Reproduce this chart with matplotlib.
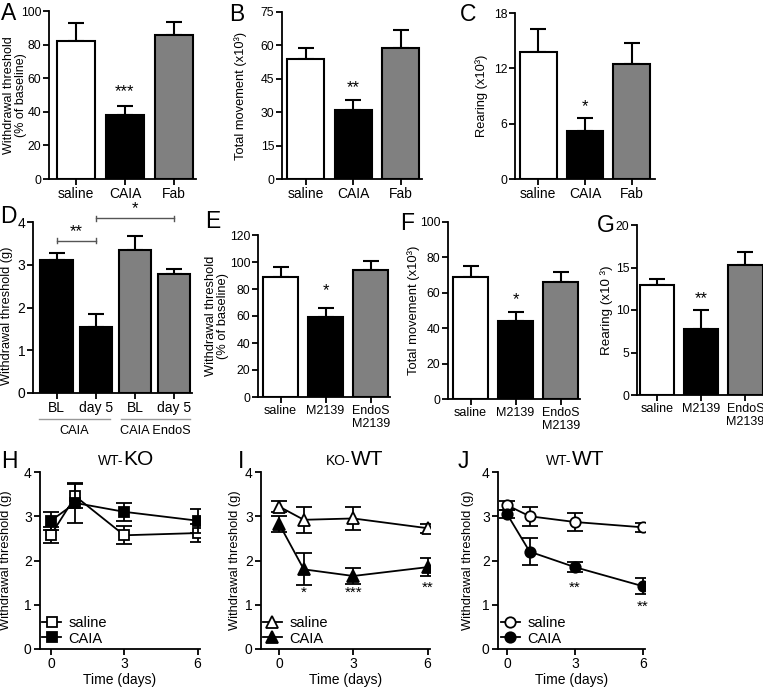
import matplotlib
matplotlib.use('Agg')
import matplotlib.pyplot as plt
import matplotlib.transforms as mtransforms
import numpy as np

plt.rcParams['font.family'] = ['Liberation Sans', 'DejaVu Sans']
plt.rcParams['font.size'] = 9.5

# ---- data ----
abc_labels = ['saline', 'CAIA', 'Fab']
a_mean = [82, 38, 86]
a_err = [11, 5.5, 7.5]
b_mean = [54, 31, 59]
b_err = [5, 4.5, 8]
c_mean = [13.8, 5.2, 12.5]
c_err = [2.5, 1.4, 2.2]

d_labels = ['BL', 'day 5', 'BL', 'day 5']
d_mean = [3.12, 1.55, 3.35, 2.78]
d_err = [0.15, 0.30, 0.33, 0.13]

efg_labels = ['saline', 'M2139', 'EndoS\nM2139']
e_mean = [89, 59, 94]
e_err = [7, 7, 6.5]
f_mean = [69, 44, 66]
f_err = [6, 5, 5.5]
g_mean = [13.0, 7.8, 15.3]
g_err = [0.7, 2.2, 1.5]

days = [0, 1, 3, 6]
h_saline = [2.58, 3.45, 2.57, 2.62]
h_saline_err = [0.18, 0.27, 0.20, 0.20]
h_caia = [2.90, 3.30, 3.10, 2.90]
h_caia_err = [0.20, 0.45, 0.20, 0.27]
i_saline = [3.22, 2.92, 2.95, 2.73]
i_saline_err = [0.13, 0.30, 0.25, 0.10]
i_caia = [2.83, 1.80, 1.65, 1.85]
i_caia_err = [0.18, 0.36, 0.18, 0.20]
j_saline = [3.25, 3.00, 2.87, 2.75]
j_saline_err = [0.10, 0.22, 0.20, 0.10]
j_caia = [3.05, 2.20, 1.85, 1.42]
j_caia_err = [0.08, 0.30, 0.12, 0.18]

W, H = 763, 688
fig = plt.figure(figsize=(W / 100, H / 100), dpi=100)
GRAY = '#808080'


def ax_px(left, top, right, bottom):
    ax = fig.add_axes([left / W, 1 - bottom / H, (right - left) / W, (bottom - top) / H])
    ax._px = (left, top, right, bottom)
    return ax


def ylabel_px(ax, text, xc, size, yfrac=0.5):
    left, top, right, bottom = ax._px
    ax.set_ylabel(text, fontsize=size, va='center', linespacing=1.0)
    ax.yaxis.set_label_coords((xc - left) / (right - left), yfrac)


def style(ax, tsize=9.5):
    for s in ['top', 'right']:
        ax.spines[s].set_visible(False)
    for s in ['left', 'bottom']:
        ax.spines[s].set_linewidth(1.3)
    ax.tick_params(direction='out', length=4, width=1.3, labelsize=tsize, pad=2)


def bars(ax, labels, means, errs, colors, ylim, step, xlim, width=0.78, xsize=9.5):
    x = np.arange(len(means))
    ax.errorbar(x, means, yerr=[np.zeros(len(errs)), errs], fmt='none', ecolor='black',
                elinewidth=1.5, capsize=6, capthick=1.5, zorder=1)
    ax.bar(x, means, width=width, color=colors, edgecolor='black', linewidth=1.5, zorder=2)
    ax.set_xticks(x)
    ax.set_xticklabels(labels, linespacing=1.05)
    ax.set_ylim(*ylim)
    ax.set_yticks(np.arange(ylim[0], ylim[1] + step / 2, step))
    ax.set_xlim(*xlim)
    style(ax)
    ax.tick_params(axis='x', labelsize=xsize)
    ax.tick_params(axis='y', labelsize=8.8, pad=1.5)


def stars(ax, x, y, s, size=12):
    ax.text(x, y, s, ha='center', va='center', fontsize=size)


cols3 = ['white', 'black', GRAY]

# A
axA = ax_px(49, 11, 196, 179)
bars(axA, abc_labels, a_mean, a_err, cols3, (0, 100), 20, (-0.55, 2.45), xsize=10)
ylabel_px(axA, 'Withdrawal threshold\n(% of baseline)', 15, 9)
stars(axA, 1, 52, '***')

# B
axB = ax_px(282, 12, 422, 179)
bars(axB, abc_labels, b_mean, b_err, cols3, (0, 75), 15, (-0.5, 2.45), xsize=10)
ylabel_px(axB, 'Total movement (x10³)', 241, 9.3)
stars(axB, 1, 41, '**')

# C
axC = ax_px(515, 13, 655, 179)
bars(axC, abc_labels, c_mean, c_err, cols3, (0, 18), 6, (-0.5, 2.5), xsize=10)
ylabel_px(axC, 'Rearing (x10³)', 482, 9.3)
stars(axC, 1, 7.8, '*')

# D
axD = ax_px(33, 222, 192, 393)
bars(axD, d_labels, d_mean, d_err, ['black', 'black', GRAY, GRAY], (0, 4), 1,
     (-0.6, 3.45), width=0.82, xsize=10)
axD.tick_params(axis='y', labelsize=10)
ylabel_px(axD, 'Withdrawal threshold (g)', 7, 9.2, yfrac=0.45)
for x0, x1, yb, s in [(0, 1, 3.56, '**'), (1, 3, 4.09, '*')]:
    axD.plot([x0, x1], [yb, yb], color='#555555', lw=1, clip_on=False)
    axD.plot([x0, x0], [yb - 0.06, yb + 0.06], color='#555555', lw=1, clip_on=False)
    axD.plot([x1, x1], [yb - 0.06, yb + 0.06], color='#555555', lw=1, clip_on=False)
    axD.text((x0 + x1) / 2, yb + 0.04, s, ha='center', va='bottom', fontsize=12, clip_on=False)
trD = mtransforms.blended_transform_factory(axD.transData, axD.transAxes)
for x0, x1, s in [(-0.45, 1.35, 'CAIA'), (1.65, 3.4, 'CAIA EndoS')]:
    axD.plot([x0, x1], [-0.152, -0.152], color='#999999', lw=1, transform=trD, clip_on=False)
    axD.text((x0 + x1) / 2, -0.19, s, ha='center', va='top', fontsize=9.2, transform=trD)

# E
axE = ax_px(258, 235, 390, 397)
bars(axE, efg_labels, e_mean, e_err, cols3, (0, 120), 20, (-0.5, 2.43), xsize=9)
ylabel_px(axE, 'Withdrawal threshold\n(% of baseline)', 217, 9.3)
stars(axE, 1, 79, '*')

# F
axF = ax_px(448, 222, 580, 399)
bars(axF, efg_labels, f_mean, f_err, cols3, (0, 100), 20, (-0.5, 2.43), xsize=9)
ylabel_px(axF, 'Total movement (x10³)', 414, 9.4)
stars(axF, 1, 56, '*')

# G
axG = ax_px(637, 225, 763, 395)
bars(axG, efg_labels, g_mean, g_err, cols3, (0, 20), 5, (-0.45, 2.4), xsize=9)
ylabel_px(axG, 'Rearing (x10 ³)', 607, 9.6)
stars(axG, 1, 11.3, '**')


# H, I, J time courses
def timecourse(ax, s_m, s_e, c_m, c_e, marker, msize, xlim, small, big, split, ylx):
    ax.errorbar(days, s_m, yerr=s_e, fmt='none', ecolor='black', elinewidth=1.3,
                capsize=6, capthick=1.3, zorder=2)
    ax.errorbar(days, c_m, yerr=c_e, fmt='none', ecolor='black', elinewidth=1.3,
                capsize=6, capthick=1.3, zorder=4)
    ax.plot(days, s_m, '-', marker=marker, color='black', mfc='white', mec='black',
            ms=msize, mew=1.3, lw=1.3, label='saline', zorder=3)
    ax.plot(days, c_m, '-', marker=marker, color='black', mfc='black', mec='black',
            ms=msize, mew=1.3, lw=1.3, label='CAIA', zorder=5)
    ax.set_xlim(*xlim)
    ax.set_ylim(0, 4)
    ax.set_xticks([0, 3, 6])
    ax.set_yticks([0, 1, 2, 3, 4])
    ax.set_xlabel('Time (days)', fontsize=10, labelpad=1)
    ylabel_px(ax, 'Withdrawal threshold (g)', ylx, 9.3)
    style(ax, tsize=10)
    ax.legend(loc='lower left', bbox_to_anchor=(-0.04, -0.03), frameon=False,
              fontsize=10.5, handlelength=1.3, handletextpad=0.5, labelspacing=0.12,
              borderaxespad=0.2)
    ax.text(split, 1.04, small, transform=ax.transAxes, ha='right', va='baseline', fontsize=10)
    ax.text(split, 1.04, big, transform=ax.transAxes, ha='left', va='baseline', fontsize=15)


axH = ax_px(40, 472, 200, 649)
timecourse(axH, h_saline, h_saline_err, h_caia, h_caia_err, 's', 7.5,
           (-0.45, 6.1), 'WT-', 'KO', 0.52, 6)

axI = ax_px(261, 472, 430, 649)
timecourse(axI, i_saline, i_saline_err, i_caia, i_caia_err, '^', 8,
           (-0.73, 6.1), 'KO-', 'WT', 0.53, 235)
for d, y, s in [(1, 1.27, '*'), (3, 1.27, '***'), (6, 1.38, '**')]:
    stars(axI, d, y, s, size=11)

axJ = ax_px(498, 472, 645, 649)
timecourse(axJ, j_saline, j_saline_err, j_caia, j_caia_err, 'o', 7.5,
           (-0.4, 6.1), 'WT-', 'WT', 0.50, 468)
for d, y, s in [(3, 1.38, '**'), (6, 0.95, '**')]:
    stars(axJ, d, y, s, size=11)

# panel letters
for s, x, y in [('A', 1, 2), ('B', 229, 3), ('C', 460, 3), ('D', 0, 205),
                ('E', 205, 210), ('F', 400, 212), ('G', 597, 214),
                ('H', 1, 450), ('I', 238, 450), ('J', 458, 450)]:
    fig.text(x / W, 1 - y / H, s, ha='left', va='top', fontsize=16.5)

fig.savefig('out.png', dpi=100)
